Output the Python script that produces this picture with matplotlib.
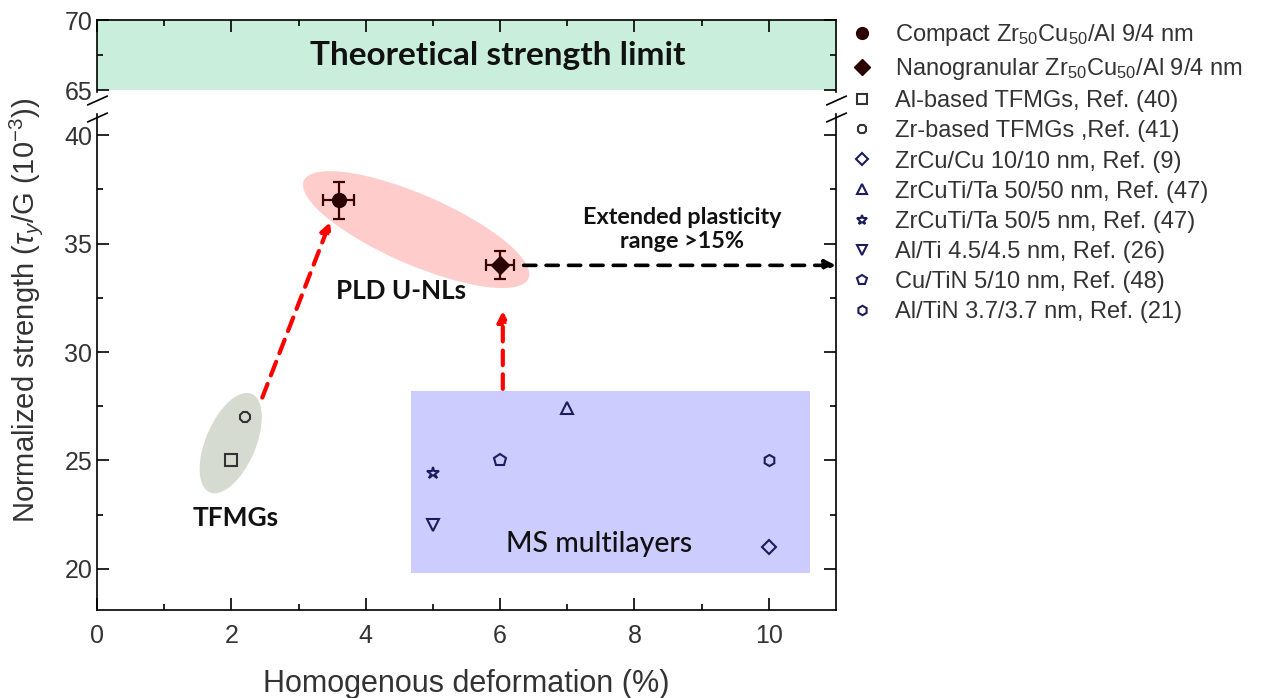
import matplotlib
matplotlib.use("Agg")
import matplotlib.pyplot as plt
from matplotlib.patches import Ellipse, Rectangle
from matplotlib.transforms import ScaledTranslation

plt.rcParams['font.family'] = ['Liberation Sans', 'DejaVu Sans']
plt.rcParams['mathtext.fontset'] = 'custom'
plt.rcParams['mathtext.rm'] = 'Liberation Sans'
plt.rcParams['mathtext.it'] = 'Liberation Sans:italic'
plt.rcParams['mathtext.default'] = 'regular'

# PLD U-NLs (this work)
compact_x = [3.6]
compact_y = [37.0]
compact_xerr = [0.23]
compact_yerr = [0.85]

nano_x = [6.0]
nano_y = [34.0]
nano_xerr = [0.21]
nano_yerr = [0.65]

# literature data
ref_labels = ['Al-based TFMGs, Ref. (40)', 'Zr-based TFMGs ,Ref. (41)',
              'ZrCu/Cu 10/10 nm, Ref. (9)', 'ZrCuTi/Ta 50/50 nm, Ref. (47)',
              'ZrCuTi/Ta 50/5 nm, Ref. (47)', 'Al/Ti 4.5/4.5 nm, Ref. (26)',
              'Cu/TiN 5/10 nm, Ref. (48)', 'Al/TiN 3.7/3.7 nm, Ref. (21)']
ref_x = [2.0, 2.2, 10.0, 7.0, 5.0, 5.0, 6.0, 10.0]
ref_y = [25.0, 27.0, 21.0, 27.4, 24.4, 22.0, 25.0, 25.0]
ref_markers = ['s', '8', 'D', '^', '*', 'v', 'p', 'h']
ref_sizes = [8, 8, 7, 9, 9, 9, 9, 8]
ref_colors = ['#333333', '#333333', '#1c1c5c', '#1c1c5c', '#1c1c5c',
              '#1c1c5c', '#1c1c5c', '#1c1c5c']

fig = plt.figure(figsize=(12.65, 6.98), dpi=100)
ax_top = fig.add_axes([0.0767, 0.8682, 0.5842, 0.1031])
ax = fig.add_axes([0.0767, 0.1261, 0.5842, 0.7105])

# shaded regions
ax_top.axhspan(65, 70, color='#c9eedb', lw=0, zorder=0)
ax.add_patch(Rectangle((4.68, 19.8), 5.93, 8.4, facecolor='#ccccff',
                       edgecolor='none', zorder=0))


def ellipse(axis, x, y, w, h, angle, color):
    # size in inches so the tilt is not distorted by the axis scales
    tr = fig.dpi_scale_trans + ScaledTranslation(x, y, axis.transData)
    axis.add_patch(Ellipse((0, 0), w, h, angle=angle, transform=tr,
                           facecolor=color, edgecolor='none', zorder=0))


ellipse(ax, 4.75, 35.65, 2.45, 0.70, -23.5, '#ffcccc')
ellipse(ax, 1.99, 25.8, 1.07, 0.50, 67, '#d6dbd2')

# arrows
red_kw = dict(arrowstyle='-|>', color='red', lw=3, linestyle=(0, (3.5, 2.2)),
              mutation_scale=15, shrinkA=0, shrinkB=0)
ax.annotate('', xy=(3.47, 36.0), xytext=(2.46, 27.9), arrowprops=red_kw)
ax.annotate('', xy=(6.04, 31.9), xytext=(6.04, 28.3), arrowprops=red_kw)
ax.annotate('', xy=(11.0, 34.0), xytext=(6.35, 34.0),
            arrowprops=dict(arrowstyle='-|>', color='black', lw=2.6,
                            linestyle=(0, (3.4, 2.8)), mutation_scale=16,
                            shrinkA=0, shrinkB=0), annotation_clip=False)

# data
ax.errorbar(compact_x, compact_y, xerr=compact_xerr, yerr=compact_yerr,
            fmt='none', ecolor='#3a0000', elinewidth=1.6, capsize=4.5, capthick=1.6, zorder=3)
ax.errorbar(nano_x, nano_y, xerr=nano_xerr, yerr=nano_yerr,
            fmt='none', ecolor='#3a0000', elinewidth=1.6, capsize=4.5, capthick=1.6, zorder=3)
handles = []
h, = ax.plot(compact_x, compact_y, 'o', color='#2a0000', ms=10, zorder=4,
             label='Compact Zr$_{50}$Cu$_{50}$/Al 9/4 nm')
handles.append(h)
h, = ax.plot(nano_x, nano_y, 'D', color='#2a0000', ms=9, zorder=4,
             label='Nanogranular Zr$_{50}$Cu$_{50}$/Al 9/4 nm')
handles.append(h)
for lab, x, y, m, s, c in zip(ref_labels, ref_x, ref_y, ref_markers, ref_sizes, ref_colors):
    h, = ax.plot([x], [y], m, ms=s, mfc='none', mec=c, mew=1.5, zorder=4, label=lab)
    handles.append(h)

# texts
font_cal = ['Lato', 'DejaVu Sans']
ax_top.text(5.97, 67.5, 'Theoretical strength limit', ha='center', va='center',
            fontsize=24, fontweight='bold', family=font_cal, color='#111111')
ax.text(4.53, 32.8, 'PLD U-NLs', ha='center', va='center', fontsize=18.7,
        fontweight='bold', family=font_cal, color='#111111')
ax.text(2.06, 22.35, 'TFMGs', ha='center', va='center', fontsize=19,
        fontweight='bold', family=font_cal, color='#111111')
ax.text(7.48, 21.15, 'MS multilayers', ha='center', va='center', fontsize=20.5,
        fontweight='medium', family=font_cal, color='#111111')
ax.text(8.71, 35.65, 'Extended plasticity\nrange >15%', ha='center', va='center',
        fontsize=16.8, fontweight='bold', family=font_cal, linespacing=1.15,
        color='#111111')

# axes setup
ax.set_xlim(0, 11)
ax.set_ylim(18.1, 40.98)
ax_top.set_xlim(0, 11)
ax_top.set_ylim(64.86, 70)
ax.set_xticks([0, 2, 4, 6, 8, 10])
ax.set_xticks([1, 3, 5, 7, 9], minor=True)
ax.set_yticks([20, 25, 30, 35, 40])
ax.set_yticks([22.5, 27.5, 32.5, 37.5], minor=True)
ax_top.set_xticks([0, 2, 4, 6, 8, 10])
ax_top.set_xticks([1, 3, 5, 7, 9], minor=True)
ax_top.set_yticks([65, 70])
ax_top.set_yticks([67.5], minor=True)

ax.spines['top'].set_visible(False)
ax_top.spines['bottom'].set_visible(False)
for a in (ax, ax_top):
    for sp in a.spines.values():
        sp.set_linewidth(1.2)
    a.tick_params(which='both', direction='in', right=True, width=1.2,
                  labelsize=18, colors='black', labelcolor='#333333')
    a.tick_params(which='major', length=8.5)
    a.tick_params(which='minor', length=4)
ax.tick_params(which='both', top=False)
ax.tick_params(axis='x', pad=10)
ax_top.tick_params(which='both', top=True, bottom=False, labelbottom=False)

# break marks
kw = dict(marker=[(-1, -0.45), (1, 0.45)], markersize=15, linestyle='none',
          color='k', mec='k', mew=1.2, clip_on=False)
ax.plot([0, 1], [0.994, 0.994], transform=ax.transAxes, **kw)
ax_top.plot([0, 1], [-0.11, -0.11], transform=ax_top.transAxes, **kw)

ax.set_xlabel('Homogenous deformation (%)', fontsize=22, color='#333333', labelpad=15)
fig.text(0.021, 0.555, r'Normalized strength ($\it{\tau}_y$/G (10$^{-3}$))',
         rotation=90, ha='center', va='center', fontsize=21, color='#333333')

fig.legend(handles=handles, loc='upper left', bbox_to_anchor=(0.6645, 0.982),
           frameon=False, fontsize=17, handlelength=1.0, handletextpad=0.9,
           labelspacing=0.345, borderaxespad=0, markerscale=0.85,
           labelcolor='#333333')

fig.savefig('out.png', dpi=100)
